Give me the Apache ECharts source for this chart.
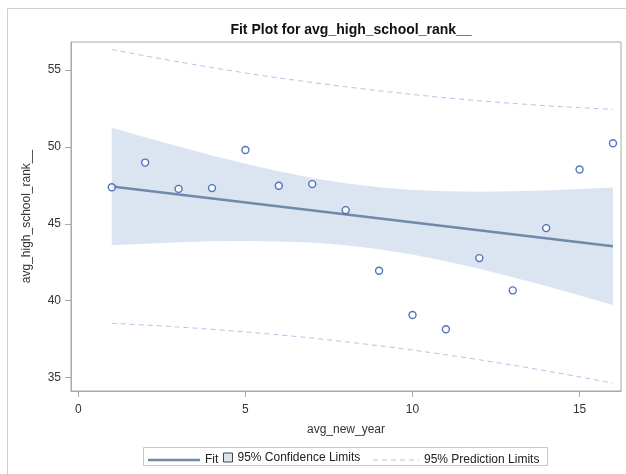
<!DOCTYPE html>
<html>
<head>
<meta charset="utf-8">
<script src="https://cdn.jsdelivr.net/npm/echarts@6/dist/echarts.min.js"></script>
<style>
html,body{margin:0;padding:0;background:#fff;}
#chart{width:626px;height:474px;}
</style>
</head>
<body>
<div id="chart"></div>
<script>
// ---- data ----
const years = [1, 2, 3, 4, 5, 6, 7, 8, 9, 10, 11, 12, 13, 14, 15, 16];
const ranks = [47.38, 48.98, 47.27, 47.32, 49.80, 47.47, 47.58, 45.89, 41.95, 39.07, 38.14, 42.77, 40.67, 44.72, 48.53, 50.24];

const fitX = [1, 16];
const fitY = [47.43, 43.54];

const limitX = [1, 2, 3, 4, 5, 6, 7, 8, 9, 10, 11, 12, 13, 14, 15, 16];
const ciUpper = [51.25, 50.63, 50.02, 49.44, 48.90, 48.41, 47.98, 47.63, 47.37, 47.20, 47.12, 47.09, 47.11, 47.17, 47.26, 47.36];
const ciLower = [43.61, 43.71, 43.80, 43.86, 43.88, 43.85, 43.78, 43.61, 43.35, 43.00, 42.56, 42.07, 41.53, 40.95, 40.34, 39.72];
const predUpper = [56.33, 55.92, 55.53, 55.16, 54.81, 54.48, 54.19, 53.91, 53.65, 53.41, 53.19, 53.00, 52.83, 52.68, 52.55, 52.44];
const predLower = [38.53, 38.42, 38.29, 38.14, 37.97, 37.78, 37.57, 37.33, 37.07, 36.79, 36.49, 36.16, 35.81, 35.44, 35.05, 34.64];

const xTicks = [0, 5, 10, 15];
const yTicks = [35, 40, 45, 50, 55];

// ---- styles ----
const FONT = 'Liberation Sans, Arial, sans-serif';
const BAND = '#dbe4f1';
const FIT = '#7088aa';
const PT = '#2a52a8';
const PRED = '#bac1e8';
const AXIS = '#a9a9a9';
const TXT = '#333333';

const pair = (xs, ys) => xs.map((x, i) => [x, ys[i]]);

const chart = echarts.init(document.getElementById('chart'), null, {renderer: 'canvas'});

const legendText = {fontFamily: FONT, fontSize: 12, color: '#222'};
const dashIcon = 'path://M0,0h5v1h-5z M9,0h5v1h-5z M18,0h5v1h-5z M27,0h5v1h-5z M36,0h5v1h-5z M45,0h1v1h-1z';

chart.setOption({
  animation: false,
  backgroundColor: '#fff',
  title: {
    text: 'Fit Plot for avg_high_school_rank__',
    left: 346, textAlign: 'center', top: 18,
    textStyle: {fontFamily: FONT, fontSize: 14, fontWeight: 'bold', color: '#111'}
  },
  graphic: [
    {type: 'rect', shape: {x: 7.5, y: 8.5, width: 700, height: 600}, style: {fill: null, stroke: '#d0d0d0', lineWidth: 1}, z: -10},
    {type: 'rect', shape: {x: 143.5, y: 447.5, width: 404, height: 18}, style: {fill: null, stroke: '#c8c8c8', lineWidth: 1}, z: 10}
  ],
  grid: {
    left: 71, right: 5, top: 42, bottom: 83,
    show: true, borderColor: AXIS, borderWidth: 1
  },
  legend: [
    {data: [{name: 'Fit', icon: 'rect', itemStyle: {color: FIT}}],
      left: 143, top: 449, itemWidth: 52, itemHeight: 2.5, itemGap: 0, textStyle: legendText, selectedMode: false},
    {data: [{name: '95% Confidence Limits', icon: 'rect', itemStyle: {color: BAND, borderColor: '#444', borderWidth: 1}}],
      left: 223, top: 449, itemWidth: 9, itemHeight: 9, textStyle: legendText, selectedMode: false, padding: [2.5, 5, 2.5, 0]},
    {data: [{name: '95% Prediction Limits', icon: dashIcon, itemStyle: {color: PRED}}],
      left: 368, top: 449, itemWidth: 46, itemHeight: 1, textStyle: legendText, selectedMode: false}
  ],
  xAxis: {
    type: 'value', min: -0.22, max: 16.24,
    name: 'avg_new_year', nameLocation: 'middle', nameGap: 33,
    nameTextStyle: {fontFamily: FONT, fontSize: 12, color: TXT},
    axisLine: {show: true, onZero: false, lineStyle: {color: AXIS}},
    axisTick: {show: true, length: 6, lineStyle: {color: AXIS}, customValues: xTicks},
    axisLabel: {fontFamily: FONT, fontSize: 12, color: TXT, margin: 13, customValues: xTicks},
    splitLine: {show: false}
  },
  yAxis: {
    type: 'value', min: 34.13, max: 56.82,
    name: 'avg_high_school_rank__', nameLocation: 'middle', nameGap: 38,
    nameTextStyle: {fontFamily: FONT, fontSize: 12, color: TXT},
    axisLine: {show: true, onZero: false, lineStyle: {color: AXIS}},
    axisTick: {show: true, length: 6, lineStyle: {color: AXIS}, customValues: yTicks},
    axisLabel: {fontFamily: FONT, fontSize: 12, color: TXT, margin: 10, customValues: yTicks},
    splitLine: {show: false}
  },
  series: [
    {
      name: '95% Confidence Limits', type: 'custom', data: pair(limitX, ciUpper),
      encode: {x: 0, y: 1}, silent: true, z: 1,
      itemStyle: {color: BAND},
      renderItem: function (params, api) {
        if (params.dataIndex !== 0) return null;
        const pts = [];
        for (let i = 0; i < limitX.length; i++) pts.push(api.coord([limitX[i], ciUpper[i]]));
        for (let i = limitX.length - 1; i >= 0; i--) pts.push(api.coord([limitX[i], ciLower[i]]));
        return {type: 'polygon', shape: {points: pts}, style: {fill: BAND, stroke: null}};
      }
    },
    {
      name: '95% Prediction Limits', type: 'line', data: pair(limitX, predUpper),
      symbol: 'none', smooth: 0.3, lineStyle: {color: PRED, width: 1, type: [5, 4]}, itemStyle: {color: PRED}, z: 2
    },
    {
      name: '95% Prediction Limits', type: 'line', data: pair(limitX, predLower),
      symbol: 'none', smooth: 0.3, lineStyle: {color: PRED, width: 1, type: [5, 4]}, itemStyle: {color: PRED}, z: 2
    },
    {
      name: 'Fit', type: 'line', data: pair(fitX, fitY),
      symbol: 'none', lineStyle: {color: FIT, width: 2.5}, itemStyle: {color: FIT}, z: 3
    },
    {
      name: 'obs', type: 'scatter', data: pair(years, ranks),
      symbol: 'circle', symbolSize: 7,
      itemStyle: {color: '#fff', borderColor: PT, borderWidth: 1.4}, z: 4
    }
  ]
});
</script>
</body>
</html>
